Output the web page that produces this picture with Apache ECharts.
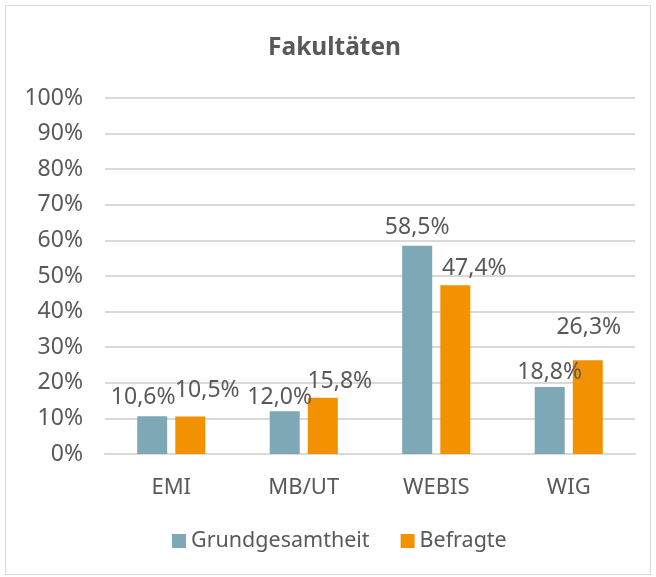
<!DOCTYPE html>
<html>
<head>
<meta charset="utf-8">
<script src="https://cdn.jsdelivr.net/npm/echarts@6/dist/echarts.min.js"></script>
<style>
  html, body { margin: 0; padding: 0; background: #fff; }
  #frame { position: absolute; left: 5px; top: 5px; width: 644px; height: 568px; border: 1px solid #d9d9d9; }
  #chart { position: absolute; left: 0; top: 0; width: 656px; height: 577px; }
</style>
</head>
<body>
<div id="frame"></div>
<div id="chart"></div>
<script>
const categories = ['EMI', 'MB/UT', 'WEBIS', 'WIG'];
const grundgesamtheit = [10.6, 12.0, 58.5, 18.8];
const befragte = [10.5, 15.8, 47.4, 26.3];
// label nudges like the original (Excel moved some labels)
const grundOffsets = [[-9, -2], [-5, 3], [0, -2], [0, 2]];
const befragteOffsets = [[17, -10], [17, 0], [19, 0], [1, -16]];

const textColor = '#595959';
const font = 'Noto Sans';

function fmt(v) {
  return v.toFixed(1).replace('.', ',') + '%';
}

function withLabels(values, offsets) {
  return values.map((v, i) => ({
    value: v,
    label: { offset: offsets[i] }
  }));
}

const chart = echarts.init(document.getElementById('chart'));
chart.setOption({
  animation: false,
  title: {
    text: 'Fakultäten',
    left: 263,
    top: 31,
    textStyle: { fontFamily: font, fontSize: 24.5, fontWeight: 'bold', color: textColor }
  },
  grid: { left: 105, right: 21, top: 98, bottom: 123 },
  legend: {
    bottom: 20,
    left: 167,
    itemWidth: 14,
    itemHeight: 14,
    itemGap: 31,
    icon: 'rect',
    textStyle: { fontFamily: font, fontSize: 21.5, color: textColor },
    data: ['Grundgesamtheit', 'Befragte']
  },
  xAxis: {
    type: 'category',
    data: categories,
    axisLine: { lineStyle: { color: '#d9d9d9', width: 2 } },
    axisTick: { show: false },
    axisLabel: { fontFamily: font, fontSize: 22, color: textColor, margin: 23 }
  },
  yAxis: {
    type: 'value',
    min: 0,
    max: 100,
    interval: 10,
    axisLine: { show: false },
    axisTick: { show: false },
    splitLine: { lineStyle: { color: '#d9d9d9', width: 2 } },
    axisLabel: { fontFamily: font, fontSize: 23, color: textColor, margin: 22, formatter: '{value}%' }
  },
  series: [{
    name: 'Grundgesamtheit',
    type: 'bar',
    barWidth: 30,
    barGap: '27%',
    data: withLabels(grundgesamtheit, grundOffsets),
    itemStyle: { color: '#7fa8b6' },
    label: {
      show: true,
      position: 'top',
      distance: 5,
      fontFamily: font,
      fontSize: 23,
      color: textColor,
      formatter: p => fmt(p.value)
    }
  }, {
    name: 'Befragte',
    type: 'bar',
    barWidth: 30,
    data: withLabels(befragte, befragteOffsets),
    itemStyle: { color: '#f39200' },
    label: {
      show: true,
      position: 'top',
      distance: 5,
      fontFamily: font,
      fontSize: 23,
      color: textColor,
      formatter: p => fmt(p.value)
    }
  }]
});
</script>
</body>
</html>
